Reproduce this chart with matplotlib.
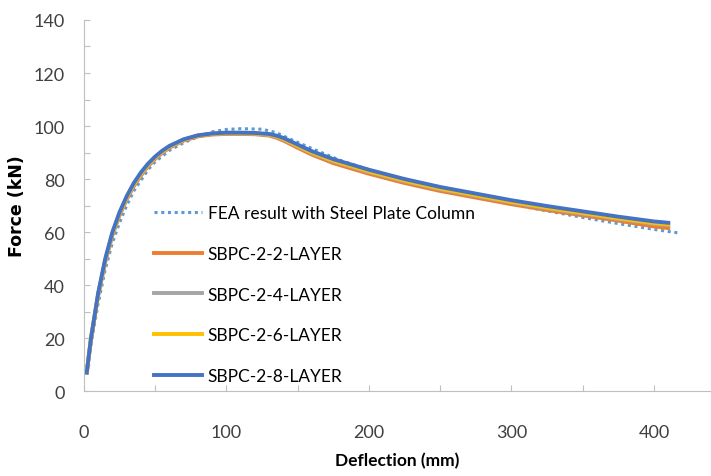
import numpy as np
import matplotlib.pyplot as plt
from matplotlib.ticker import MultipleLocator

plt.rcParams['font.family'] = ['Lato', 'DejaVu Sans']

# deflection (mm) / force (kN)
x_fea = [2, 5, 10, 15, 20, 25, 30, 35, 40, 45, 50, 60, 70, 80, 90, 100, 110, 125, 135,
         145, 160, 180, 200, 225, 250, 275, 300, 325, 350, 375, 400, 418]
y_fea = [7, 18, 33, 46, 56, 63.5, 70, 75.5, 79.5, 83.5, 86.5, 90.8, 93.7, 96, 97.8, 98.7,
         99, 98.8, 97.5, 95, 91.5, 87, 83.5, 80, 76.5, 73.3, 70.5, 68, 65.5, 63.2, 61, 59.6]

x_s = [2, 5, 10, 15, 20, 25, 30, 35, 40, 45, 50, 55, 60, 70, 80, 90, 100, 110, 120, 130,
       135, 140, 150, 160, 175, 200, 225, 250, 275, 300, 325, 350, 375, 400, 410]
y_s8 = [7, 20, 37, 50, 60, 67.5, 73.5, 78.5, 82.5, 85.8, 88.5, 90.7, 92.5, 95, 96.5, 97.2,
        97.5, 97.5, 97.4, 97, 96.4, 95.5, 93, 90.5, 87.5, 83.5, 80, 77, 74.5, 72, 69.8,
        67.8, 65.8, 64, 63.5]
y_s6 = [7, 20, 36.5, 49.5, 59.5, 67, 73, 78, 82, 85.4, 88.1, 90.4, 92.2, 94.8, 96.4, 97.1,
        97.3, 97.3, 97.2, 96.8, 96.1, 95.1, 92.5, 90, 86.9, 82.9, 79.4, 76.4, 73.9, 71.4,
        69.2, 67.2, 65.2, 63.4, 62.9]
y_s4 = [7, 20, 36.3, 49.2, 59.2, 66.7, 72.7, 77.7, 81.7, 85.1, 87.9, 90.2, 92, 94.7, 96.3,
        97, 97.2, 97.2, 97.1, 96.6, 95.9, 94.9, 92.3, 89.7, 86.6, 82.6, 79.1, 76.1, 73.6,
        71.1, 68.9, 66.9, 64.9, 63.1, 62.6]
y_s2 = [7, 19.5, 36, 48.8, 58.8, 66.3, 72.3, 77.3, 81.3, 84.8, 87.6, 89.9, 91.8, 94.5,
        96.1, 96.8, 97, 97, 96.9, 96.4, 95.6, 94.5, 91.8, 89.2, 86, 82, 78.5, 75.5, 73,
        70.5, 68.3, 66.3, 64.3, 62.1, 61.5]

fig = plt.figure(figsize=(7.11, 4.77), dpi=100)
ax = fig.add_axes([0.118, 0.178, 0.882, 0.778])

ax.plot(x_fea, y_fea, ls=(0, (1, 1.2)), lw=2.2, color='#5B9BD5',
        label='FEA result with Steel Plate Column')
ax.plot(x_s, y_s2, lw=2.8, color='#ED7D31', label='SBPC-2-2-LAYER')
ax.plot(x_s, y_s4, lw=2.8, color='#A5A5A5', label='SBPC-2-4-LAYER')
ax.plot(x_s, y_s6, lw=2.8, color='#FFC000', label='SBPC-2-6-LAYER')
ax.plot(x_s, y_s8, lw=2.8, color='#4472C4', label='SBPC-2-8-LAYER')

ax.set_xlim(0, 440)
ax.set_ylim(0, 140)
ax.xaxis.set_major_locator(MultipleLocator(100))
ax.xaxis.set_minor_locator(MultipleLocator(50))
ax.yaxis.set_major_locator(MultipleLocator(20))
ax.yaxis.set_minor_locator(MultipleLocator(10))
ax.tick_params(which='both', direction='in', length=4, color='#BFBFBF', width=0.8,
               labelsize=13, labelcolor='#404040')
ax.tick_params(axis='x', pad=24)
ax.tick_params(axis='y', pad=14)
for s in ['top', 'right']:
    ax.spines[s].set_visible(False)
for s in ['left', 'bottom']:
    ax.spines[s].set_color('#BFBFBF')

ax.set_xlabel('Deflection (mm)', fontsize=12.5, fontweight='bold', labelpad=8)
ax.set_ylabel('Force (kN)', fontsize=12.5, fontweight='bold', labelpad=5,
              family=['DejaVu Sans'])

leg = ax.legend(loc='upper left', bbox_to_anchor=(0.087, 0.543), frameon=False,
                fontsize=12.5, handlelength=2.75, labelspacing=1.42, handletextpad=0.35)

fig.savefig('out.png', dpi=100)
